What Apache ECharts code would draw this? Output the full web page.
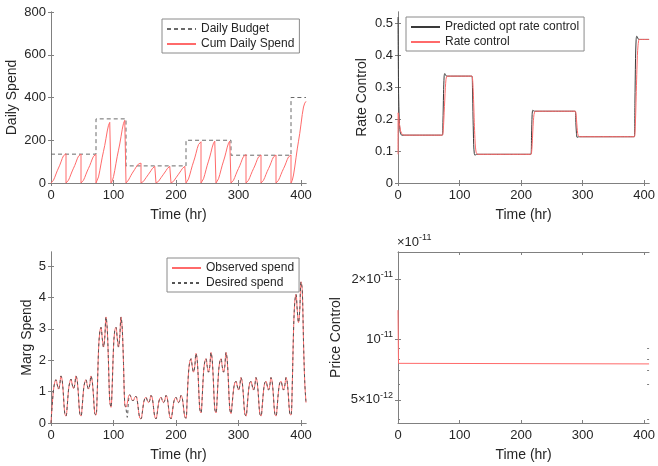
<!DOCTYPE html>
<html><head><meta charset="utf-8">
<script src="https://cdn.jsdelivr.net/npm/echarts@6/dist/echarts.min.js"></script>
<style>html,body{margin:0;padding:0;background:#fff}#c{width:658px;height:466px}</style>
</head><body><div id="c"></div>
<script>
// ---------------- data ----------------
const xTicks = [0, 100, 200, 300, 400];
const timeMax = 408;
const dayStarts = [0,24,48,72,96,120,144,168,192,216,240,264,288,312,336,360,384];
const dailyBudget = [135,135,135,300,300,80,80,80,80,200,200,200,130,130,130,130,400];
const dayOffsets = [0,2,4,6,8,10,12,14,16,18,20,22,24];
const cumDailySpend = [
  [0,4.4,13.4,26.9,42.2,57.1,70.1,83.3,98.8,114.9,127.5,134,137],
  [0,4.3,13.2,26.5,41.6,56.3,69.1,82.1,97.3,113.3,125.7,132,135],
  [0,4.3,13.1,26.3,41.3,55.9,68.6,81.5,96.6,112.4,124.8,131.1,134],
  [0,9.3,28.4,56.8,89.3,120.9,148.5,176.3,209.1,243.3,270,283.6,290],
  [0,9.6,29.4,58.8,92.4,125.1,153.6,182.4,216.3,251.7,279.3,293.4,300],
  [0,5,14,25,36,46,55,64,74,83,89,92,93],
  [0,2.6,7.8,15.7,24.6,33.4,41,48.6,57.7,67.1,74.5,78.2,80],
  [0,2.6,7.8,15.7,24.6,33.4,41,48.6,57.7,67.1,74.5,78.2,80],
  [0,2.6,7.8,15.7,24.6,33.4,41,48.6,57.7,67.1,74.5,78.2,80],
  [0,6.2,18.9,37.8,59.4,80.5,98.8,117.3,139.2,161.9,179.7,188.8,193],
  [0,6.4,19.6,39.2,61.6,83.4,102.4,121.6,144.2,167.8,186.2,195.6,200],
  [0,6.4,19.6,39.2,61.6,83.4,102.4,121.6,144.2,167.8,186.2,195.6,200],
  [0,4.3,13,26.1,41,55.5,68.1,80.9,95.9,111.6,123.8,130.1,133],
  [0,4.2,12.8,25.7,40.3,54.6,67.1,79.6,94.5,109.9,122,128.1,131],
  [0,4.2,12.8,25.7,40.3,54.6,67.1,79.6,94.5,109.9,122,128.1,131],
  [0,4.2,12.8,25.7,40.3,54.6,67.1,79.6,94.5,109.9,122,128.1,131],
  [0,12.2,37.4,74.9,117.7,159.3,195.6,232.3,275.4,320.5,355.6,373.6,382]
];

const predRateHours = [0,0.5,1,2,3,4,5,6,72,73,74,75,76,77,78,80,120,121,122,123,124,125,126,128,216,217,218,219,220,222,288,289,290,291,292,294,384,385,386,387,388,389,390,392,408];
const predRate = [0.52,0.38,0.28,0.2,0.168,0.156,0.152,0.15,0.15,0.19,0.28,0.335,0.343,0.34,0.336,0.335,0.335,0.3,0.2,0.12,0.092,0.087,0.088,0.09,0.09,0.15,0.215,0.228,0.227,0.225,0.225,0.19,0.155,0.143,0.144,0.145,0.145,0.25,0.39,0.45,0.46,0.458,0.452,0.45,0.45];
const rateHours = [0,0.3,1,2,4,6,8,10,72,73,74,75,76,77,78,79,80,120,121,122,123,124,125,126,127,128,130,216,217,218,219,220,221,222,223,224,288,289,290,291,292,293,294,296,384,385,386,387,388,389,390,391,392,408];
const rateControl = [0.09,0.22,0.21,0.19,0.165,0.155,0.151,0.15,0.15,0.155,0.18,0.22,0.26,0.3,0.325,0.333,0.335,0.335,0.33,0.3,0.25,0.19,0.14,0.11,0.097,0.092,0.09,0.09,0.095,0.12,0.16,0.195,0.215,0.222,0.225,0.225,0.225,0.22,0.2,0.175,0.155,0.148,0.146,0.145,0.145,0.155,0.2,0.27,0.34,0.4,0.43,0.445,0.45,0.45];

const margStep = 2; // hours between samples
const observedSpend = [
  0.0,0.6,1.05,1.3,1.38,1.22,1.08,1.22,1.5,1.35,0.85,0.3,
  0.22,0.55,1.05,1.3,1.4,1.22,1.1,1.22,1.5,1.35,0.85,0.3,
  0.22,0.55,1.05,1.3,1.38,1.2,1.08,1.22,1.5,1.33,0.85,0.3,
  0.25,1.0,2.3,2.9,3.05,2.7,2.42,2.72,3.38,3.0,1.9,0.7,
  0.5,1.25,2.4,2.95,3.05,2.7,2.42,2.75,3.38,3.0,1.9,0.6,
  0.5,0.62,0.85,0.9,0.82,0.72,0.72,0.82,0.85,0.72,0.4,0.16,
  0.13,0.32,0.62,0.78,0.82,0.72,0.65,0.72,0.88,0.8,0.5,0.2,
  0.13,0.32,0.62,0.78,0.82,0.72,0.65,0.72,0.88,0.8,0.5,0.2,
  0.13,0.32,0.62,0.78,0.82,0.72,0.65,0.72,0.88,0.8,0.5,0.2,
  0.15,0.85,1.6,1.95,2.05,1.8,1.62,1.8,2.22,2.0,1.25,0.45,
  0.32,0.85,1.6,1.95,2.05,1.8,1.62,1.8,2.25,2.0,1.25,0.45,
  0.32,0.85,1.6,1.95,2.05,1.8,1.62,1.8,2.25,2.0,1.25,0.45,
  0.3,0.65,1.05,1.28,1.33,1.18,1.05,1.18,1.45,1.3,0.82,0.3,
  0.22,0.55,1.02,1.28,1.33,1.18,1.05,1.18,1.45,1.3,0.82,0.3,
  0.22,0.55,1.02,1.28,1.33,1.18,1.05,1.18,1.45,1.3,0.82,0.3,
  0.22,0.55,1.02,1.28,1.33,1.18,1.05,1.18,1.45,1.3,0.82,0.3,
  0.25,1.2,2.9,3.85,4.1,3.6,3.2,3.6,4.5,4.25,2.6,1.3,0.65
];
const desiredSpend = [
  0.0,0.6,1.05,1.3,1.38,1.22,1.08,1.22,1.5,1.35,0.85,0.3,
  0.22,0.55,1.05,1.3,1.4,1.22,1.1,1.22,1.5,1.35,0.85,0.3,
  0.22,0.55,1.05,1.3,1.38,1.2,1.08,1.22,1.5,1.33,0.85,0.3,
  0.25,1.0,2.3,2.9,3.05,2.7,2.42,2.72,3.38,3.0,1.9,0.7,
  0.5,1.25,2.4,2.95,3.05,2.7,2.42,2.75,3.38,3.0,1.9,0.6,
  0.45,0.18,0.7,0.9,0.82,0.72,0.72,0.82,0.85,0.72,0.4,0.16,
  0.13,0.32,0.62,0.78,0.82,0.72,0.65,0.72,0.88,0.8,0.5,0.2,
  0.13,0.32,0.62,0.78,0.82,0.72,0.65,0.72,0.88,0.8,0.5,0.2,
  0.13,0.32,0.62,0.78,0.82,0.72,0.65,0.72,0.88,0.8,0.5,0.2,
  0.15,0.85,1.6,1.95,2.05,1.8,1.62,1.8,2.22,2.0,1.25,0.45,
  0.32,0.85,1.6,1.95,2.05,1.8,1.62,1.8,2.25,2.0,1.25,0.45,
  0.32,0.85,1.6,1.95,2.05,1.8,1.62,1.8,2.25,2.0,1.25,0.45,
  0.3,0.65,1.05,1.28,1.33,1.18,1.05,1.18,1.45,1.3,0.82,0.3,
  0.22,0.55,1.02,1.28,1.33,1.18,1.05,1.18,1.45,1.3,0.82,0.3,
  0.22,0.55,1.02,1.28,1.33,1.18,1.05,1.18,1.45,1.3,0.82,0.3,
  0.22,0.55,1.02,1.28,1.33,1.18,1.05,1.18,1.45,1.3,0.82,0.3,
  0.25,1.2,2.9,3.85,4.1,3.6,3.2,3.6,4.5,4.25,2.6,1.3,0.65
];

const priceHours = [0, 0.8, 2, 408];
const priceControl = [1.4e-11, 7.6e-12, 7.55e-12, 7.55e-12];

const spendTicks = [0,200,400,600,800];
const rateTicks = [0,0.1,0.2,0.3,0.4,0.5];
const margTicks = [0,1,2,3,4,5];
const priceTicks = [5e-12, 1e-11, 2e-11];
const priceTickMant = ['5×10', '10', '2×10'];
const priceTickExp = ['-12', '-11', '-11'];
const priceMinorTicks = [4e-12, 6e-12, 7e-12, 8e-12, 9e-12];

// ---------------- build ----------------
const AX = '#808080', TXT = '#262626', RED = '#ff6a6a', DARK = '#3a3a3a', DASH = '#6a6a6a';
const FONT = 'Liberation Sans';

const budgetData = dayStarts.map((s, i) => [s, dailyBudget[i]]);
budgetData.push([timeMax, dailyBudget[dailyBudget.length - 1]]);
const cumData = [];
cumDailySpend.forEach((day, d) => day.forEach((v, k) => cumData.push([dayStarts[d] + dayOffsets[k], v])));
const obsData = observedSpend.map((v, i) => [i * margStep, v]);
const desData = desiredSpend.map((v, i) => [i * margStep, v]);
const predData = predRateHours.map((h, i) => [h, predRate[i]]);
const rateData = rateHours.map((h, i) => [h, rateControl[i]]);
const priceData = priceHours.map((h, i) => [h, priceControl[i]]);

const grids = [
  {left: 51, top: 12, width: 255, height: 171},
  {left: 398, top: 12, width: 254, height: 171},
  {left: 51, top: 252, width: 255, height: 171},
  {left: 398, top: 252, width: 254, height: 171}
];

const tickStyle = (vals, len) => ({show: true, inside: true, length: len || 3, customValues: vals, lineStyle: {color: AX, width: 1}});
const lineAx = {show: true, lineStyle: {color: AX, width: 1}};

const xAxis = [];
grids.forEach((g, gi) => {
  xAxis.push({type: 'value', gridIndex: gi, position: 'bottom', min: 0, max: timeMax,
    name: 'Time (hr)', nameLocation: 'middle', nameGap: 25,
    nameTextStyle: {fontSize: 14, color: TXT, fontFamily: FONT},
    axisLine: lineAx, axisTick: tickStyle(xTicks),
    axisLabel: {customValues: xTicks, fontSize: 13, color: TXT, fontFamily: FONT, margin: 6},
    splitLine: {show: false}});
  xAxis.push({type: 'value', gridIndex: gi, position: 'top', min: 0, max: timeMax,
    axisLine: lineAx, axisTick: tickStyle(xTicks), axisLabel: {show: false}, splitLine: {show: false}});
});

const yDefs = [
  {min: 0, max: 800, ticks: spendTicks, name: 'Daily Spend', gap: 32},
  {min: 0, max: 0.536, ticks: rateTicks, name: 'Rate Control', gap: 29},
  {min: 0, max: 5.45, ticks: margTicks, name: 'Marg Spend', gap: 17},
  {min: 3.83e-12, max: 2.73e-11, ticks: priceTicks, name: 'Price Control', gap: 55, log: true}
];
const richSup = {
  m: {fontSize: 13, color: TXT, fontFamily: FONT, fontWeight: 'normal', lineHeight: 18},
  e: {fontSize: 9, color: TXT, fontFamily: FONT, fontWeight: 'normal', lineHeight: 9, padding: [0, 0, 9, 0]}
};
const yAxis = [];
yDefs.forEach((d, gi) => {
  const base = {type: d.log ? 'log' : 'value', gridIndex: gi, min: d.min, max: d.max, splitLine: {show: false}};
  if (d.log) base.logBase = 10;
  const label = {customValues: d.ticks, fontSize: 13, color: TXT, fontFamily: FONT, margin: 5};
  if (d.log) {
    label.formatter = (v) => {
      let idx = 0, best = Infinity;
      priceTicks.forEach((t, i) => { const e = Math.abs(Math.log(v) - Math.log(t)); if (e < best) { best = e; idx = i; } });
      return '{m|' + priceTickMant[idx] + '}{e|' + priceTickExp[idx] + '}';
    };
    label.rich = richSup;
  }
  yAxis.push(Object.assign({}, base, {position: 'left', name: d.name, nameLocation: 'middle', nameGap: d.gap,
    nameTextStyle: {fontSize: 14, color: TXT, fontFamily: FONT},
    axisLine: lineAx, axisTick: tickStyle(d.ticks), axisLabel: label}));
  yAxis.push(Object.assign({}, base, {position: 'right', axisLine: lineAx, axisTick: tickStyle(d.ticks), axisLabel: {show: false}}));
});
// minor ticks for the log axis
yAxis.push({type: 'log', logBase: 10, gridIndex: 3, min: 3.83e-12, max: 2.73e-11, position: 'left', axisLine: {show: false},
  axisTick: tickStyle(priceMinorTicks, 2), axisLabel: {show: false}, splitLine: {show: false}});
yAxis.push({type: 'log', logBase: 10, gridIndex: 3, min: 3.83e-12, max: 2.73e-11, position: 'right', axisLine: {show: false},
  axisTick: tickStyle(priceMinorTicks, 2), axisLabel: {show: false}, splitLine: {show: false}});

const ln = (name, data, xi, yi, color, type, extra) => Object.assign({
  name, type: 'line', data, xAxisIndex: xi, yAxisIndex: yi, symbol: 'none', showSymbol: false,
  lineStyle: {color, width: 1, type: type || 'solid'}, itemStyle: {color}, animation: false, z: 2
}, extra || {});

const series = [
  ln('Daily Budget', budgetData, 0, 0, DASH, [4, 3], {step: 'end'}),
  ln('Cum Daily Spend', cumData, 0, 0, RED, 'solid', {z: 3}),
  ln('Predicted opt rate control', predData, 2, 2, DARK, 'solid', {smooth: 0.3}),
  ln('Rate control', rateData, 2, 2, RED, 'solid', {smooth: 0.3, z: 3}),
  ln('Observed spend', obsData, 4, 4, RED, 'solid', {smooth: 0.35}),
  ln('Desired spend', desData, 4, 4, '#555555', [3, 3], {smooth: 0.35, z: 3}),
  ln('Price control', priceData, 6, 6, RED, 'solid')
];

const legendBase = {orient: 'vertical', itemWidth: 29, itemHeight: 12, itemGap: 3, padding: [4, 5, 3, 4],
  borderColor: '#8a8a8a', borderWidth: 1, backgroundColor: '#fff', borderRadius: 0,
  itemStyle: {opacity: 0},
  textStyle: {fontSize: 12, color: TXT, fontFamily: FONT}, selectedMode: false};
const legend = [
  Object.assign({}, legendBase, {left: 162, top: 19, data: ['Daily Budget', 'Cum Daily Spend']}),
  Object.assign({}, legendBase, {left: 406, top: 17, data: ['Predicted opt rate control', 'Rate control']}),
  Object.assign({}, legendBase, {left: 167, top: 258, data: ['Observed spend', 'Desired spend']})
];

const title = [{text: '{m|×10}{e|-11}', left: 397, top: 233, padding: 0,
  textStyle: {fontWeight: 'normal', rich: richSup}}];

const chart = echarts.init(document.getElementById('c'));
chart.setOption({animation: false, backgroundColor: '#fff', title, grid: grids, xAxis, yAxis, legend, series});
</script></body></html>
